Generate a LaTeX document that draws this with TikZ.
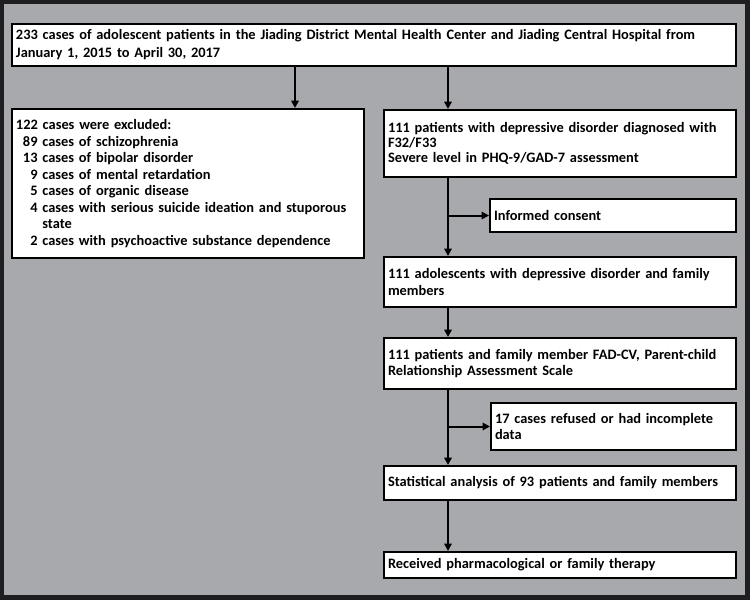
\documentclass[tikz,border=0pt]{standalone}
\usepackage{fontspec}
\setmainfont{Carlito}
\usetikzlibrary{arrows.meta}
\definecolor{bggray}{RGB}{168,169,172}
\definecolor{framec}{RGB}{30,30,32}
\tikzset{
  box/.style={draw=black, line width=1.5pt, fill=white, inner xsep=3pt, inner ysep=0pt,
    align=left, font=\fontsize{10.8pt}{12.3pt}\selectfont\bfseries},
  conn/.style={line width=1.5pt, -{Triangle[width=5.5pt,length=5.5pt]}}
}
\begin{document}
\begin{tikzpicture}[x=0.75pt,y=-0.75pt]
\useasboundingbox (0,0) rectangle (750,600);
\fill[framec] (0,0) rectangle (750,600);
\fill[bggray] (4,4) rectangle (745,595);
% nodes
\node[box, text width=537pt, minimum width=543pt, minimum height=31.5pt,
  font=\fontsize{10.8pt}{13.5pt}\selectfont\bfseries] (top) at (374,45)
  {233 cases of adolescent patients in the Jiading District Mental Health Center and Jiading Central Hospital from\\January 1, 2015 to April 30, 2017};
\node[box, text width=258pt, minimum width=264pt, minimum height=111.75pt,
  font=\fontsize{10.8pt}{12.4pt}\selectfont\bfseries] (excl) at (188,183.5)
  {122 cases were excluded:\\
   \hspace*{5.25pt}89 cases of schizophrenia\\
   \hspace*{5.25pt}13 cases of bipolar disorder\\
   \hspace*{5.25pt}\hphantom{0}9 cases of mental retardation\\
   \hspace*{5.25pt}\hphantom{0}5 cases of organic disease\\
   \hspace*{5.25pt}\hphantom{0}4 cases with serious suicide ideation and stuporous\\
   \hspace*{5.25pt}\hphantom{0}\hphantom{4}\ state\\
   \hspace*{5.25pt}\hphantom{0}2 cases with psychoactive substance dependence};
\node[box, text width=258pt, minimum width=264pt, minimum height=50.25pt,
  font=\fontsize{10.8pt}{11.4pt}\selectfont\bfseries] (p111) at (560,143.5)
  {111 patients with depressive disorder diagnosed with\\F32/F33\\Severe level in PHQ-9/GAD-7 assessment};
\node[box, text width=178.5pt, minimum width=184.5pt, minimum height=24.75pt] (consent) at (613,215.5)
  {Informed consent};
\node[box, text width=258pt, minimum width=264pt, minimum height=37.5pt] (adol) at (560,282)
  {111 adolescents with depressive disorder and family\\members};
\node[box, text width=258pt, minimum width=264pt, minimum height=38.25pt] (fad) at (560,363.5)
  {111 patients and family member FAD-CV, Parent-child\\Relationship Assessment Scale};
\node[box, text width=177.75pt, minimum width=183.75pt, minimum height=35.25pt] (refused) at (613.5,426.5)
  {17 cases refused or had incomplete\\data};
\node[box, text width=258pt, minimum width=264pt, minimum height=25.5pt] (stat) at (560,483)
  {Statistical analysis of 93 patients and family members};
\node[box, text width=258pt, minimum width=264pt, minimum height=19.5pt] (recv) at (560,565)
  {Received pharmacological or family therapy};
% spines
\coordinate (sl) at (295,0);
\coordinate (sr) at (448,0);
% connectors
\draw[conn] (top.south -| sl) -- (excl.north -| sl);
\draw[conn] (top.south -| sr) -- (p111.north -| sr);
\draw[conn] (p111.south -| sr) -- (adol.north -| sr);
\draw[conn] (consent.west -| sr) -- (consent.west);
\draw[conn] (adol.south -| sr) -- (fad.north -| sr);
\draw[conn] (fad.south -| sr) -- (stat.north -| sr);
\draw[conn] (refused.west -| sr) -- (refused.west);
\draw[conn] (stat.south -| sr) -- (recv.north -| sr);
\end{tikzpicture}
\end{document}
